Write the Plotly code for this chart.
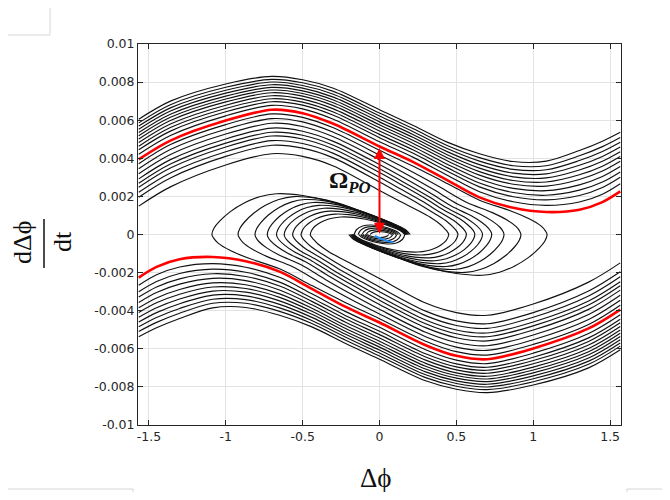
import plotly.graph_objects as go

# ---------------- data (y values in 1e-3 units) ----------------
# upper separatrix (red) and top-most black trajectory share this x grid
grid_x = [-1.566, -1.36, -1.0, -0.70, -0.50, -0.30, 0.0, 0.22, 0.44, 0.65, 0.87, 1.085, 1.30, 1.45, 1.566]
red_y = [3.94, 4.93, 5.98, 6.55, 6.37, 5.81, 4.62, 3.80, 2.85, 1.95, 1.40, 1.18, 1.30, 1.70, 2.26]
top_y = [6.05, 7.00, 7.90, 8.30, 8.12, 7.68, 6.55, 5.72, 4.85, 4.24, 3.83, 3.85, 4.41, 4.90, 5.37]
# position of each black trajectory above the separatrix (0 = red, 1 = top curve)
top_band_frac = [1.0, 0.91, 0.83, 0.75, 0.67, 0.59, 0.51, 0.42, 0.33, 0.24, 0.13]

# trajectories below the separatrix that fall into the spiral: first and last of the band
band_first_x = [-1.566, -1.36, -1.0, -0.70, -0.50, -0.30, 0.0, 0.22, 0.44, 0.65, 0.85, 0.97, 1.05, 1.08, 1.09]
band_first_y = [3.71, 4.72, 5.77, 6.33, 6.15, 5.60, 4.42, 3.58, 2.68, 1.80, 1.25, 0.84, 0.45, 0.18, 0.0]
band_last_x = [-1.566, -1.36, -1.0, -0.70, -0.50, -0.30, 0.0, 0.12, 0.24, 0.33, 0.40, 0.43, 0.445, 0.45, 0.45]
band_last_y = [1.49, 2.50, 3.65, 4.24, 4.10, 3.60, 2.31, 1.80, 1.30, 0.90, 0.50, 0.25, 0.10, 0.03, 0.0]
turn_x = [1.09, 0.92, 0.81, 0.73, 0.67, 0.62, 0.565, 0.51, 0.45]
band_left_y = [3.71, 3.45, 3.19, 2.92, 2.69, 2.48, 2.22, 1.96, 1.49]

# spiral arcs (continuation after the turning point): outermost and innermost
arc_out_x = [-1.09, -1.075, -1.04, -0.97, -0.88, -0.78, -0.67, -0.50, -0.35, -0.20, -0.05, 0.08, 0.17, 0.20]
arc_out_y = [0.0, 0.35, 0.70, 1.20, 1.65, 1.98, 2.14, 2.05, 1.80, 1.40, 1.00, 0.60, 0.25, 0.0]
arc_in_x = [-0.45, -0.445, -0.43, -0.40, -0.36, -0.31, -0.25, -0.17, -0.09, -0.01, 0.06, 0.11, 0.15, 0.165]
arc_in_y = [0.0, 0.15, 0.35, 0.55, 0.72, 0.85, 0.92, 0.90, 0.80, 0.65, 0.45, 0.30, 0.12, 0.0]
arc_peak_frac = [0.0, 0.125, 0.25, 0.375, 0.5, 0.625, 0.75, 0.875, 1.0]

# tight loops at the focus
core_out_x = [-0.165, -0.15, -0.11, -0.05, 0.02, 0.08, 0.12, 0.135]
core_out_y = [0.0, 0.25, 0.45, 0.50, 0.42, 0.28, 0.12, 0.0]
core_in_x = [-0.06, -0.05, -0.03, 0.0, 0.03, 0.06, 0.075, 0.08]
core_in_y = [0.0, 0.08, 0.14, 0.16, 0.13, 0.08, 0.03, 0.0]
core_frac = [0.0, 0.25, 0.5, 0.75, 1.0]

# periodic orbit fragment (blue)
blue_x = [-0.03, 0.02, 0.06, 0.09]
blue_y = [-0.08, -0.25, -0.36, -0.40]

# arrow for Omega_PO
arrow_x = 0.0
arrow_y0 = 0.04
arrow_y1 = 4.62

x_ticks = [-1.5, -1, -0.5, 0, 0.5, 1, 1.5]
x_ticktext = ["-1.5", "-1", "-0.5", "0", "0.5", "1", "1.5"]
y_ticks = [-0.01, -0.008, -0.006, -0.004, -0.002, 0, 0.002, 0.004, 0.006, 0.008, 0.01]
y_ticktext = ["-0.01", "-0.008", "-0.006", "-0.004", "-0.002", "0", "0.002", "0.004", "0.006", "0.008", "0.01"]

S = 1e-3

# page geometry (the page body adds an 8 px margin)
PL, PR, PT, PB = 138, 621, 44, 425


def px(x):
    return (x - PL) / (PR - PL)


def py(y):
    return (PB - y) / (PB - PT)


def blend(ax, ay, bx, by, tx, ty):
    xs = [a + tx * (b - a) for a, b in zip(ax, bx)]
    ys = [a + ty * (b - a) for a, b in zip(ay, by)]
    return xs, ys


fig = go.Figure()
BLACK = dict(color="#111111", width=1.15, shape="spline", smoothing=0.9)


def add_line(xs, ys, line):
    fig.add_trace(go.Scatter(x=xs, y=[v * S for v in ys], mode="lines", line=line,
                             hoverinfo="skip", showlegend=False))


def add_pair(xs, ys, line):
    # upper trajectory and its point-symmetric partner in the lower half
    add_line(xs, ys, line)
    add_line([-v for v in xs], [-v for v in ys], line)


for t in top_band_frac:
    xs, ys = blend(grid_x, red_y, grid_x, top_y, t, t)
    add_pair(xs, ys, BLACK)

span_x = turn_x[0] - turn_x[-1]
span_y = band_left_y[0] - band_left_y[-1]
for rx, ly, pf in zip(turn_x, band_left_y, arc_peak_frac):
    tx = (turn_x[0] - rx) / span_x
    ty = (band_left_y[0] - ly) / span_y
    bx, by = blend(band_first_x, band_first_y, band_last_x, band_last_y, tx, ty)
    ax_, ay_ = blend(arc_out_x, arc_out_y, arc_in_x, arc_in_y, tx, pf)
    # band trajectory, then it turns and continues as a lower spiral arc
    xs = bx + [-v for v in ax_[1:]]
    ys = by + [-v for v in ay_[1:]]
    add_pair(xs, ys, BLACK)

for t in core_frac:
    xs, ys = blend(core_out_x, core_out_y, core_in_x, core_in_y, t, t)
    add_pair(xs, ys, BLACK)

add_pair(grid_x, red_y, dict(color="#FF0000", width=2.6, shape="spline", smoothing=0.9))

add_line(blue_x, blue_y, dict(color="#1E90FF", width=2, shape="spline"))

# double headed arrow
fig.add_annotation(x=arrow_x, y=arrow_y0 * S, ax=arrow_x, ay=arrow_y1 * S, xref="x", yref="y",
                   axref="x", ayref="y", text="", showarrow=True, arrowhead=2, startarrowhead=2,
                   arrowside="end+start", arrowsize=1.1, startarrowsize=1.1, arrowwidth=2,
                   arrowcolor="#FF0000", standoff=0, startstandoff=0)

fig.add_annotation(x=-0.19, y=2.75 * S, xref="x", yref="y", showarrow=False,
                   xanchor="center", yanchor="middle",
                   text="<b>Ω<sub><i>PO</i></sub></b>",
                   font=dict(family="Liberation Serif", size=24, color="#111111"))

# axis titles
fig.add_annotation(x=px(376), y=py(478), xref="paper", yref="paper",
                   xanchor="center", yanchor="middle",
                   showarrow=False, text="Δϕ",
                   font=dict(family="Liberation Serif", size=27, color="#111111"))
fig.add_annotation(x=px(22), y=py(243), xref="paper", yref="paper",
                   xanchor="center", yanchor="middle",
                   showarrow=False, text="dΔϕ", textangle=-90,
                   font=dict(family="Liberation Serif", size=26, color="#111111"))
fig.add_annotation(x=px(62), y=py(242), xref="paper", yref="paper",
                   xanchor="center", yanchor="middle",
                   showarrow=False, text="dt", textangle=-90,
                   font=dict(family="Liberation Serif", size=26, color="#111111"))
fig.add_shape(type="line", xref="paper", yref="paper",
              x0=px(44), x1=px(44), y0=py(268), y1=py(219),
              line=dict(color="#111111", width=1.5))

# faint crop marks around the picture
MARK = dict(color="#D6D6D6", width=1)
for (x0, y0, x1, y1) in [(8, 35, 50, 35), (50, 8, 50, 35),
                         (8, 489, 133, 489), (133, 489, 133, 500),
                         (627, 489, 662, 489), (627, 489, 627, 500)]:
    fig.add_shape(type="line", xref="paper", yref="paper", x0=px(x0), x1=px(x1),
                  y0=py(y0), y1=py(y1), line=MARK)

axis_common = dict(showline=True, linecolor="#262626", linewidth=1, mirror="allticks",
                   ticks="inside", ticklen=5, tickcolor="#262626", showgrid=True,
                   gridcolor="#E3E3E3", gridwidth=1, zeroline=False,
                   tickfont=dict(family="DejaVu Sans", size=12.5, color="#262626"))

fig.update_xaxes(range=[-1.5708, 1.5708], tickvals=x_ticks, ticktext=x_ticktext, **axis_common)
fig.update_yaxes(range=[-0.01, 0.01], tickvals=y_ticks, ticktext=y_ticktext, **axis_common)

fig.update_layout(width=654, height=484, margin=dict(l=130, r=41, t=36, b=67),
                  paper_bgcolor="white", plot_bgcolor="white", showlegend=False)

fig.write_html("out.html")
